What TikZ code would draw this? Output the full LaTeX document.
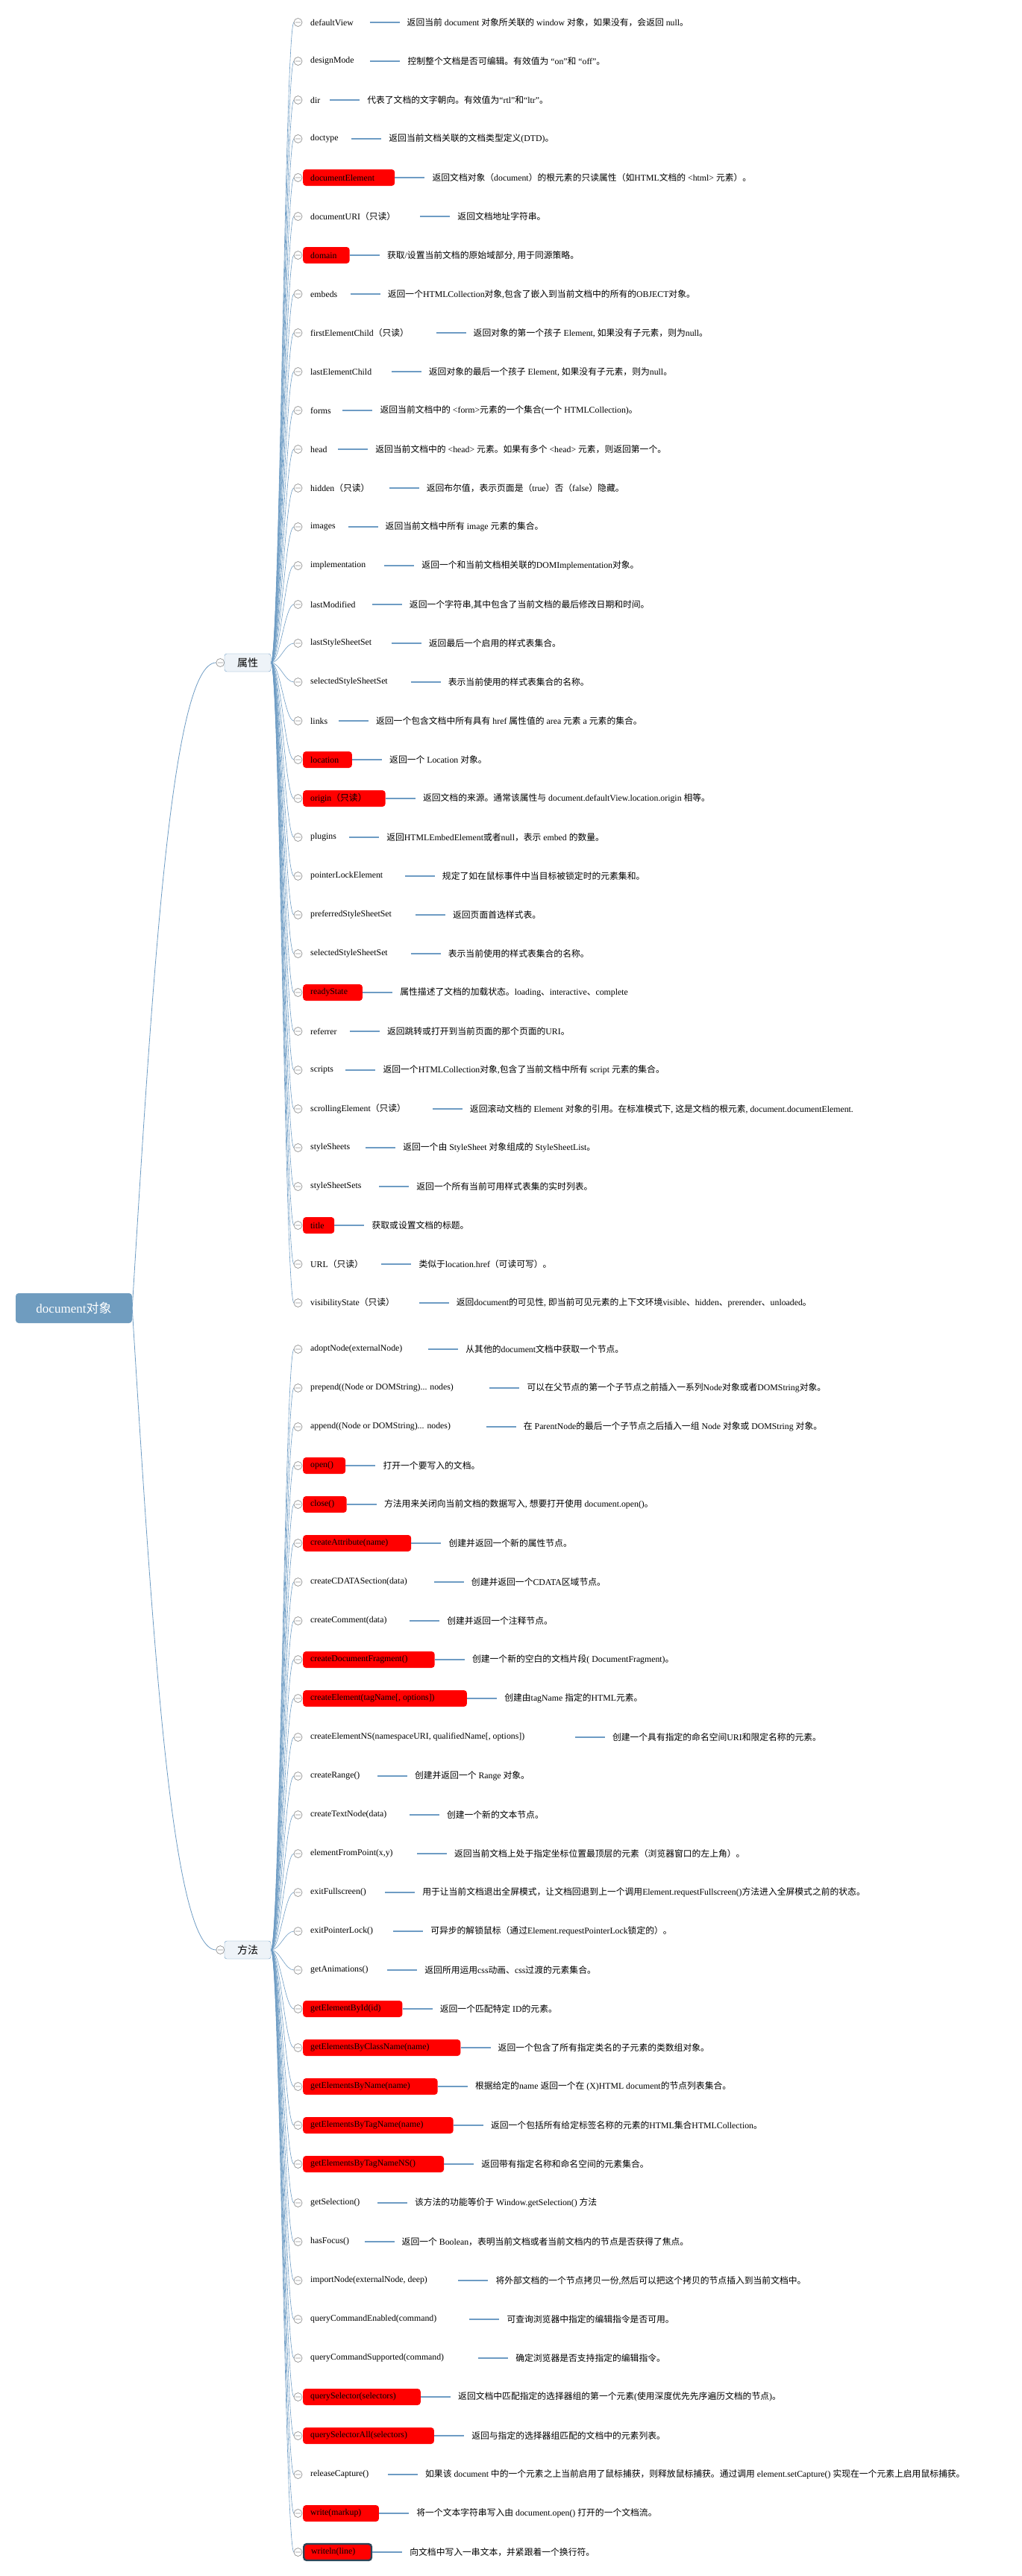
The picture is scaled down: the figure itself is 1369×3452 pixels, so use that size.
\documentclass[tikz,border=0pt]{standalone}
\usepackage{fontspec}
\usetikzlibrary{positioning,backgrounds}
\setmainfont{Liberation Serif}
\newfontfamily\zhfont{Noto Sans CJK SC}
% switch fonts between latin and chinese runs
\def\zhsw{\zhfont}
\def\lasw{\rmfamily}
\XeTeXinterchartokenstate=1
\newXeTeXintercharclass\zhclass
\newcount\zhcode
\zhcode="3000 \loop\XeTeXcharclass\zhcode=\zhclass\advance\zhcode 1 \ifnum\zhcode<"3040 \repeat
\zhcode="4E00 \loop\XeTeXcharclass\zhcode=\zhclass\advance\zhcode 1 \ifnum\zhcode<"A000 \repeat
\zhcode="FF00 \loop\XeTeXcharclass\zhcode=\zhclass\advance\zhcode 1 \ifnum\zhcode<"FFF0 \repeat
\XeTeXcharclass"2018=0 \XeTeXcharclass"2019=0
\XeTeXcharclass"201C=0 \XeTeXcharclass"201D=0
\XeTeXinterchartoks 0 \zhclass={\zhsw}
\XeTeXinterchartoks \zhclass 0={\lasw}
\XeTeXinterchartoks 4095 \zhclass={\zhsw}
\XeTeXinterchartoks \zhclass 4095={\lasw}
\definecolor{linkblue}{HTML}{6E9CC4}
\definecolor{rootblue}{HTML}{6F9CBF}
\definecolor{paleblue}{HTML}{EEF3F8}
\definecolor{deepnavy}{HTML}{2E4457}
\newcommand{\padlbl}[1]{\sbox0{#1}\usebox0\kern.2\wd0\relax}
\begin{document}
\begin{tikzpicture}[x=1pt,y=-1pt,node distance=40pt,
  every node/.style={font=\fontsize{11.8}{14}\selectfont},
  lbl/.style={anchor=west,inner xsep=10pt,inner ysep=2pt,minimum height=22pt,rounded corners=4pt},
  hot/.style={fill=red},
  picked/.style={fill=red,draw=deepnavy,line width=2.4pt},
  desc/.style={inner xsep=10pt},
  branch/.style={draw=linkblue,line width=.6pt},
  tie/.style={draw=linkblue,line width=1.2pt},
  knob/.style={draw=gray!85,fill=white,line width=.7pt},
  topic/.style={fill=rootblue,text=white,rounded corners=4pt,minimum width=156pt,minimum height=40pt,
    font=\fontsize{17}{19}\selectfont},
  group/.style={draw=linkblue,fill=paleblue,rounded corners=3pt,minimum width=62pt,minimum height=24pt,
    font=\fontsize{14}{16}\selectfont}]
\useasboundingbox (0,0) rectangle (1369,3452);

\node[topic] (root) at (99,1753) {document对象};
\node[group] (attr) at (332,888) {属性};
\node[group] (meth) at (332,2613) {方法};

% 属性
\node[lbl] (p1) at (406,30) {\padlbl{defaultView}};
\node[desc,right=of p1] (d1) {返回当前 document 对象所关联的 window 对象，如果没有，会返回 null。};
\node[lbl] (p2) at (406,82) {\padlbl{designMode}};
\node[desc,right=of p2] (d2) {控制整个文档是否可编辑。有效值为 “on”和 “off”。};
\node[lbl] (p3) at (406,134) {\padlbl{dir}};
\node[desc,right=of p3] (d3) {代表了文档的文字朝向。有效值为“rtl”和“ltr”。};
\node[lbl] (p4) at (406,186) {\padlbl{doctype}};
\node[desc,right=of p4] (d4) {返回当前文档关联的文档类型定义(DTD)。};
\node[lbl,hot] (p5) at (406,238) {\padlbl{documentElement}};
\node[desc,right=of p5] (d5) {返回文档对象（document）的根元素的只读属性（如HTML文档的 <html> 元素）。};
\node[lbl] (p6) at (406,290) {\padlbl{documentURI（只读）}};
\node[desc,right=of p6] (d6) {返回文档地址字符串。};
\node[lbl,hot] (p7) at (406,342) {\padlbl{domain}};
\node[desc,right=of p7] (d7) {获取/设置当前文档的原始域部分, 用于同源策略。};
\node[lbl] (p8) at (406,394) {\padlbl{embeds}};
\node[desc,right=of p8] (d8) {返回一个HTMLCollection对象,包含了嵌入到当前文档中的所有的OBJECT对象。};
\node[lbl] (p9) at (406,446) {\padlbl{firstElementChild（只读）}};
\node[desc,right=of p9] (d9) {返回对象的第一个孩子 Element, 如果没有子元素，则为null。};
\node[lbl] (p10) at (406,498) {\padlbl{lastElementChild}};
\node[desc,right=of p10] (d10) {返回对象的最后一个孩子 Element, 如果没有子元素，则为null。};
\node[lbl] (p11) at (406,550) {\padlbl{forms}};
\node[desc,right=of p11] (d11) {返回当前文档中的 <form>元素的一个集合(一个 HTMLCollection)。};
\node[lbl] (p12) at (406,602) {\padlbl{head}};
\node[desc,right=of p12] (d12) {返回当前文档中的 <head> 元素。如果有多个 <head> 元素，则返回第一个。};
\node[lbl] (p13) at (406,654) {\padlbl{hidden（只读）}};
\node[desc,right=of p13] (d13) {返回布尔值，表示页面是（true）否（false）隐藏。};
\node[lbl] (p14) at (406,706) {\padlbl{images}};
\node[desc,right=of p14] (d14) {返回当前文档中所有 image 元素的集合。};
\node[lbl] (p15) at (406,758) {\padlbl{implementation}};
\node[desc,right=of p15] (d15) {返回一个和当前文档相关联的DOMImplementation对象。};
\node[lbl] (p16) at (406,810) {\padlbl{lastModified}};
\node[desc,right=of p16] (d16) {返回一个字符串,其中包含了当前文档的最后修改日期和时间。};
\node[lbl] (p17) at (406,862) {\padlbl{lastStyleSheetSet}};
\node[desc,right=of p17] (d17) {返回最后一个启用的样式表集合。};
\node[lbl] (p18) at (406,914) {\padlbl{selectedStyleSheetSet}};
\node[desc,right=of p18] (d18) {表示当前使用的样式表集合的名称。};
\node[lbl] (p19) at (406,966) {\padlbl{links}};
\node[desc,right=of p19] (d19) {返回一个包含文档中所有具有 href 属性值的 area 元素 a 元素的集合。};
\node[lbl,hot] (p20) at (406,1018) {\padlbl{location}};
\node[desc,right=of p20] (d20) {返回一个 Location 对象。};
\node[lbl,hot] (p21) at (406,1070) {\padlbl{origin（只读）}};
\node[desc,right=of p21] (d21) {返回文档的来源。通常该属性与 document.defaultView.location.origin 相等。};
\node[lbl] (p22) at (406,1122) {\padlbl{plugins}};
\node[desc,right=of p22] (d22) {返回HTMLEmbedElement或者null，表示 embed 的数量。};
\node[lbl] (p23) at (406,1174) {\padlbl{pointerLockElement}};
\node[desc,right=of p23] (d23) {规定了如在鼠标事件中当目标被锁定时的元素集和。};
\node[lbl] (p24) at (406,1226) {\padlbl{preferredStyleSheetSet}};
\node[desc,right=of p24] (d24) {返回页面首选样式表。};
\node[lbl] (p25) at (406,1278) {\padlbl{selectedStyleSheetSet}};
\node[desc,right=of p25] (d25) {表示当前使用的样式表集合的名称。};
\node[lbl,hot] (p26) at (406,1330) {\padlbl{readyState}};
\node[desc,right=of p26] (d26) {属性描述了文档的加载状态。loading、interactive、complete};
\node[lbl] (p27) at (406,1382) {\padlbl{referrer}};
\node[desc,right=of p27] (d27) {返回跳转或打开到当前页面的那个页面的URI。};
\node[lbl] (p28) at (406,1434) {\padlbl{scripts}};
\node[desc,right=of p28] (d28) {返回一个HTMLCollection对象,包含了当前文档中所有 script 元素的集合。};
\node[lbl] (p29) at (406,1486) {\padlbl{scrollingElement（只读）}};
\node[desc,right=of p29] (d29) {返回滚动文档的 Element 对象的引用。在标准模式下, 这是文档的根元素, document.documentElement.};
\node[lbl] (p30) at (406,1538) {\padlbl{styleSheets}};
\node[desc,right=of p30] (d30) {返回一个由 StyleSheet 对象组成的 StyleSheetList。};
\node[lbl] (p31) at (406,1590) {\padlbl{styleSheetSets}};
\node[desc,right=of p31] (d31) {返回一个所有当前可用样式表集的实时列表。};
\node[lbl,hot] (p32) at (406,1642) {\padlbl{title}};
\node[desc,right=of p32] (d32) {获取或设置文档的标题。};
\node[lbl] (p33) at (406,1694) {\padlbl{URL（只读）}};
\node[desc,right=of p33] (d33) {类似于location.href（可读可写）。};
\node[lbl] (p34) at (406,1746) {\padlbl{visibilityState（只读）}};
\node[desc,right=of p34] (d34) {返回document的可见性, 即当前可见元素的上下文环境visible、hidden、prerender、unloaded。};

% 方法
\node[lbl] (m1) at (406,1808) {\padlbl{adoptNode(externalNode)}};
\node[desc,right=of m1] (e1) {从其他的document文档中获取一个节点。};
\node[lbl] (m2) at (406,1860) {\padlbl{prepend((Node or DOMString)... nodes)}};
\node[desc,right=of m2] (e2) {可以在父节点的第一个子节点之前插入一系列Node对象或者DOMString对象。};
\node[lbl] (m3) at (406,1912) {\padlbl{append((Node or DOMString)... nodes)}};
\node[desc,right=of m3] (e3) {在 ParentNode的最后一个子节点之后插入一组 Node 对象或 DOMString 对象。};
\node[lbl,hot] (m4) at (406,1964) {\padlbl{open()}};
\node[desc,right=of m4] (e4) {打开一个要写入的文档。};
\node[lbl,hot] (m5) at (406,2016) {\padlbl{close()}};
\node[desc,right=of m5] (e5) {方法用来关闭向当前文档的数据写入, 想要打开使用 document.open()。};
\node[lbl,hot] (m6) at (406,2068) {\padlbl{createAttribute(name)}};
\node[desc,right=of m6] (e6) {创建并返回一个新的属性节点。};
\node[lbl] (m7) at (406,2120) {\padlbl{createCDATASection(data)}};
\node[desc,right=of m7] (e7) {创建并返回一个CDATA区域节点。};
\node[lbl] (m8) at (406,2172) {\padlbl{createComment(data)}};
\node[desc,right=of m8] (e8) {创建并返回一个注释节点。};
\node[lbl,hot] (m9) at (406,2224) {\padlbl{createDocumentFragment()}};
\node[desc,right=of m9] (e9) {创建一个新的空白的文档片段( DocumentFragment)。};
\node[lbl,hot] (m10) at (406,2276) {\padlbl{createElement(tagName[, options])}};
\node[desc,right=of m10] (e10) {创建由tagName 指定的HTML元素。};
\node[lbl] (m11) at (406,2328) {\padlbl{createElementNS(namespaceURI, qualifiedName[, options])}};
\node[desc,right=of m11] (e11) {创建一个具有指定的命名空间URI和限定名称的元素。};
\node[lbl] (m12) at (406,2380) {\padlbl{createRange()}};
\node[desc,right=of m12] (e12) {创建并返回一个 Range 对象。};
\node[lbl] (m13) at (406,2432) {\padlbl{createTextNode(data)}};
\node[desc,right=of m13] (e13) {创建一个新的文本节点。};
\node[lbl] (m14) at (406,2484) {\padlbl{elementFromPoint(x,y)}};
\node[desc,right=of m14] (e14) {返回当前文档上处于指定坐标位置最顶层的元素（浏览器窗口的左上角）。};
\node[lbl] (m15) at (406,2536) {\padlbl{exitFullscreen()}};
\node[desc,right=of m15] (e15) {用于让当前文档退出全屏模式，让文档回退到上一个调用Element.requestFullscreen()方法进入全屏模式之前的状态。};
\node[lbl] (m16) at (406,2588) {\padlbl{exitPointerLock()}};
\node[desc,right=of m16] (e16) {可异步的解锁鼠标（通过Element.requestPointerLock锁定的）。};
\node[lbl] (m17) at (406,2640) {\padlbl{getAnimations()}};
\node[desc,right=of m17] (e17) {返回所用运用css动画、css过渡的元素集合。};
\node[lbl,hot] (m18) at (406,2692) {\padlbl{getElementById(id)}};
\node[desc,right=of m18] (e18) {返回一个匹配特定 ID的元素。};
\node[lbl,hot] (m19) at (406,2744) {\padlbl{getElementsByClassName(name)}};
\node[desc,right=of m19] (e19) {返回一个包含了所有指定类名的子元素的类数组对象。};
\node[lbl,hot] (m20) at (406,2796) {\padlbl{getElementsByName(name)}};
\node[desc,right=of m20] (e20) {根据给定的name 返回一个在 (X)HTML document的节点列表集合。};
\node[lbl,hot] (m21) at (406,2848) {\padlbl{getElementsByTagName(name)}};
\node[desc,right=of m21] (e21) {返回一个包括所有给定标签名称的元素的HTML集合HTMLCollection。};
\node[lbl,hot] (m22) at (406,2900) {\padlbl{getElementsByTagNameNS()}};
\node[desc,right=of m22] (e22) {返回带有指定名称和命名空间的元素集合。};
\node[lbl] (m23) at (406,2952) {\padlbl{getSelection()}};
\node[desc,right=of m23] (e23) {该方法的功能等价于 Window.getSelection() 方法};
\node[lbl] (m24) at (406,3004) {\padlbl{hasFocus()}};
\node[desc,right=of m24] (e24) {返回一个 Boolean，表明当前文档或者当前文档内的节点是否获得了焦点。};
\node[lbl] (m25) at (406,3056) {\padlbl{importNode(externalNode, deep)}};
\node[desc,right=of m25] (e25) {将外部文档的一个节点拷贝一份,然后可以把这个拷贝的节点插入到当前文档中。};
\node[lbl] (m26) at (406,3108) {\padlbl{queryCommandEnabled(command)}};
\node[desc,right=of m26] (e26) {可查询浏览器中指定的编辑指令是否可用。};
\node[lbl] (m27) at (406,3160) {\padlbl{queryCommandSupported(command)}};
\node[desc,right=of m27] (e27) {确定浏览器是否支持指定的编辑指令。};
\node[lbl,hot] (m28) at (406,3212) {\padlbl{querySelector(selectors)}};
\node[desc,right=of m28] (e28) {返回文档中匹配指定的选择器组的第一个元素(使用深度优先先序遍历文档的节点)。};
\node[lbl,hot] (m29) at (406,3264) {\padlbl{querySelectorAll(selectors)}};
\node[desc,right=of m29] (e29) {返回与指定的选择器组匹配的文档中的元素列表。};
\node[lbl] (m30) at (406,3316) {\padlbl{releaseCapture()}};
\node[desc,right=of m30] (e30) {如果该 document 中的一个元素之上当前启用了鼠标捕获，则释放鼠标捕获。通过调用 element.setCapture() 实现在一个元素上启用鼠标捕获。};
\node[lbl,hot] (m31) at (406,3368) {\padlbl{write(markup)}};
\node[desc,right=of m31] (e31) {将一个文本字符串写入由 document.open() 打开的一个文档流。};
\node[lbl,picked] (m32) at (406,3420) {\padlbl{writeln(line)}};
\node[desc,right=of m32] (e32) {向文档中写入一串文本，并紧跟着一个换行符。};

\foreach \i in {1,...,34} \draw[tie] (p\i.east) -- (d\i.west);
\foreach \i in {1,...,32} \draw[tie] (m\i.east) -- (e\i.west);

\begin{pgfonlayer}{background}
\fill[white] (0,0) rectangle (1369,3452);
\draw[branch,line width=.8pt] (root.east) .. controls (205,1300) and (230,888) .. ([xshift=-11pt]attr.west);
\draw[branch,line width=.8pt] (root.east) .. controls (205,2200) and (230,2613) .. ([xshift=-11pt]meth.west);
\foreach \i in {1,...,34}
  \draw[branch] (attr.east) .. controls +(12,0) and +(-12,0) .. ([xshift=-12pt]p\i.west);
\foreach \i in {1,...,32}
  \draw[branch] (meth.east) .. controls +(12,0) and +(-12,0) .. ([xshift=-12pt]m\i.west);
\foreach \n in {attr,meth}
  \draw[knob] ([xshift=-5.5pt]\n.west) circle (5.5) ([xshift=-9pt]\n.west) -- ([xshift=-2pt]\n.west);
\foreach \i in {1,...,34}
  \draw[knob] ([xshift=-6.5pt]p\i.west) circle (5.5) ([xshift=-10pt]p\i.west) -- ([xshift=-3pt]p\i.west);
\foreach \i in {1,...,32}
  \draw[knob] ([xshift=-6.5pt]m\i.west) circle (5.5) ([xshift=-10pt]m\i.west) -- ([xshift=-3pt]m\i.west);
\end{pgfonlayer}
\end{tikzpicture}
\end{document}
